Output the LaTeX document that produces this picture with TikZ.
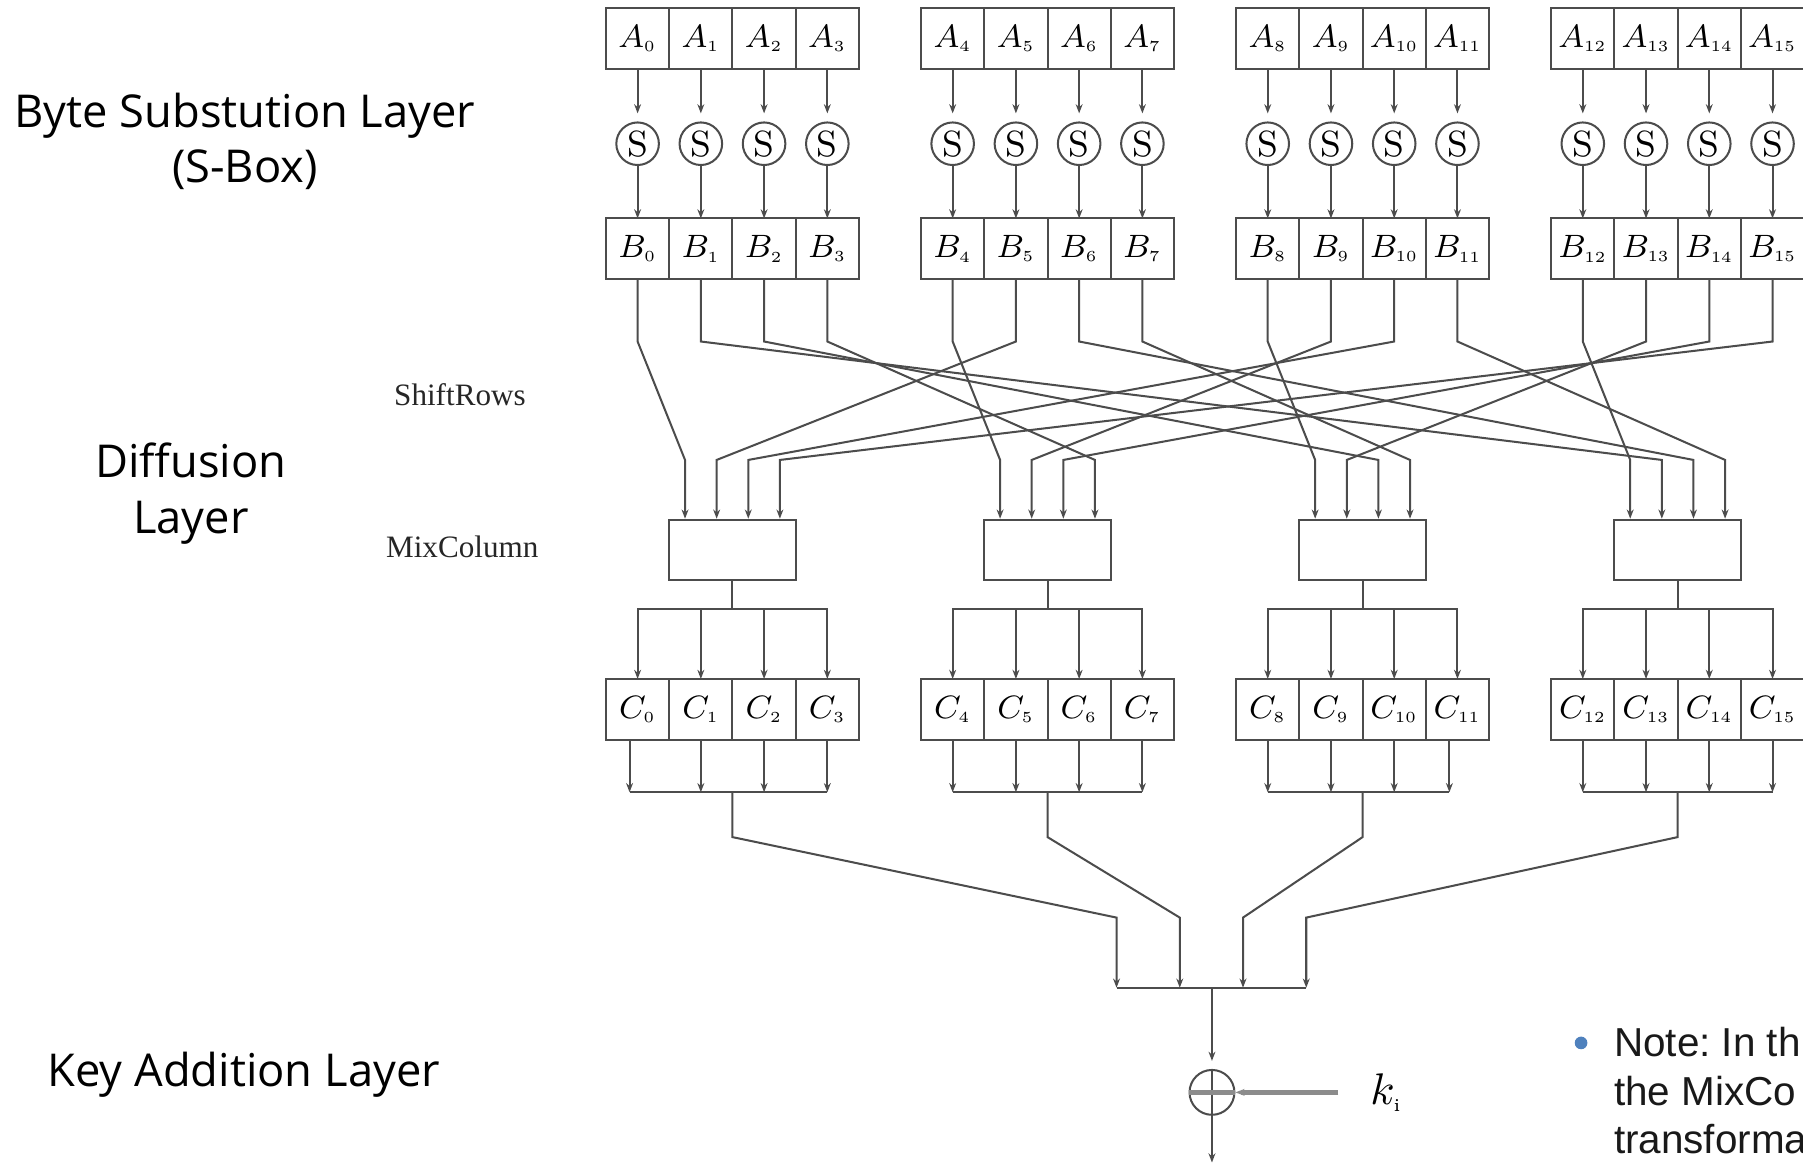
\documentclass[tikz,border=0pt]{standalone}
\usepackage{fontspec}
\newfontfamily\layerfont{Open Sans}
\newfontfamily\notefont{Liberation Sans}
\newfontfamily\tagfont{Liberation Serif}
\definecolor{bulletblue}{HTML}{4F81BD}
\usetikzlibrary{positioning,calc,arrows.meta}

\begin{document}
\begin{tikzpicture}[x=0.01cm,y=-0.01cm,>={Stealth[length=0.8mm,width=0.6mm]},
    cell/.style={shape=rectangle,draw=black!70,line width=0.5pt,minimum width=0.55cm,
      minimum height=0.53cm,inner sep=0pt,outer sep=0pt,font=\fontsize{8.5}{9}\selectfont},
    sbox/.style={shape=circle,draw=black!70,line width=0.5pt,minimum size=0.37cm,
      inner sep=0pt,font=\fontsize{9}{9}\selectfont},
    mixbox/.style={shape=rectangle,draw=black!70,line width=0.5pt,minimum width=1.1cm,
      minimum height=0.52cm,inner sep=0pt},
    wire/.style={draw=black!70,line width=0.5pt},
    keyline/.style={draw=black!45,line width=1.1pt},
    layer/.style={align=center,font=\layerfont\fontsize{11.2}{13.8}\selectfont},
    tag/.style={text=black!85,font=\tagfont\fontsize{7.7}{9}\selectfont},
    note/.style={anchor=base west,inner sep=0pt,text=black!90,
      font=\notefont\fontsize{10}{12}\selectfont\frenchspacing}]
    \useasboundingbox (0,0) rectangle (1568,1015);
    % create the nodes
    \foreach \i in {0,...,15}{
      \pgfmathsetmacro{\xc}{527+274*int(\i/4)+55*mod(\i,4)+27.5}
      \node[cell] (a\i) at (\xc,33.5) {$A_{\mbox{\fontsize{3.8}{4}\selectfont\i}}$};
      \node[sbox] (s\i) at (\xc,125) {S};
      \node[cell] (b\i) at (\xc,216.5) {$B_{\mbox{\fontsize{3.8}{4}\selectfont\i}}$};
      \node[cell] (c\i) at (\xc,617) {$C_{\mbox{\fontsize{3.8}{4}\selectfont\i}}$};
    }
    \foreach \j in {0,...,3}
      \node[mixbox] (m\j) at (637+274*\j,478) {};
    \node[shape=circle,draw=black!70,line width=0.5pt,minimum size=0.39cm,inner sep=0pt]
      (xor) at (1054,950) {};
    \coordinate (kin) at (1164,950);
    \node[inner sep=0pt,font=\fontsize{10.5}{12}\selectfont] (klabel) [right=0.27cm of kin]
      {$k_{\mbox{\fontsize{4.5}{5}\selectfont i}}$};
    \coordinate (out) at (1054,1011);
    \coordinate (t1) at (0,297);
    \coordinate (t2) at (0,400);
    \coordinate (tb) at (0,530);
    \coordinate (bb) at (0,689);
    \coordinate (t3) at (0,728);
    \coordinate (t4) at (0,798);
    \foreach \j in {0,...,3}
      \coordinate (k\j) at (971+55*\j,859);
    % labels
    \node[layer] (sublayer) at (213,123) {Byte Substution Layer\\(S-Box)};
    \node[layer] (difflayer) at (166,429) {Diffusion\\Layer};
    \node[layer] (keylayer) at (212,935) {Key Addition Layer};
    \node[tag,anchor=base] (shiftrows) at (400,353) {ShiftRows};
    \node[tag,anchor=base] (mixcolumn) at (402,485) {MixColumn};
    \node[shape=circle,fill=bulletblue,minimum size=0.11cm,inner sep=0pt] (bullet) at (1375,907) {};
    \node[note] (note1) at (1403,919) {Note: In th};
    \node[note] (note2) at (1403,961) {the MixCo};
    \node[note] (note3) at (1403,1003) {transforma};
    % connect the nodes
    \foreach \i in {0,...,15}{
      \draw[wire,->,shorten >=0.07cm] (a\i) -- (s\i);
      \draw[wire,->] (s\i) -- (b\i);
    }
    \foreach \j in {0,...,3}
      \foreach \k in {0,...,3}{
        \pgfmathtruncatemacro{\src}{mod(4*\j+5*\k,16)}
        \coordinate (mi\j\k) at ($(m\j.north)+(-41.25+27.5*\k,0)$);
        \draw[wire,->] (b\src.south) -- (b\src.south |- t1) -- (mi\j\k |- t2) -- (mi\j\k);
      }
    \foreach \i in {0,...,15}{
      \pgfmathtruncatemacro{\j}{int(\i/4)}
      \draw[wire,->] (m\j.south) -- (m\j.south |- tb) -| (c\i.north);
      \pgfmathsetmacro{\dx}{(\i==0)*(-7)+(\i==11)*(-7)}
      \coordinate (o\i) at ($(c\i.south |- bb)+(\dx,0)$);
      \draw[wire,->] (o\i |- c\i.south) -- (o\i);
    }
    \foreach \j in {0,...,3}{
      \pgfmathtruncatemacro{\p}{4*\j}
      \pgfmathtruncatemacro{\q}{4*\j+3}
      \draw[wire] (o\p) -- (o\q);
      \draw[wire,->] (m\j.south |- bb) -- (m\j.south |- t3) -- (k\j |- t4) -- (k\j);
    }
    \draw[wire] (k0) -- (k3);
    \draw[wire,->,shorten >=0.07cm] (xor |- k0) -- (xor);
    \draw[wire] (xor.north) -- (xor.south);
    \draw[wire,->] (xor) -- (out);
    \draw[keyline] (xor.west) -- (xor.east);
    \draw[keyline,->] (kin) -- (xor);
\end{tikzpicture}
\end{document}
